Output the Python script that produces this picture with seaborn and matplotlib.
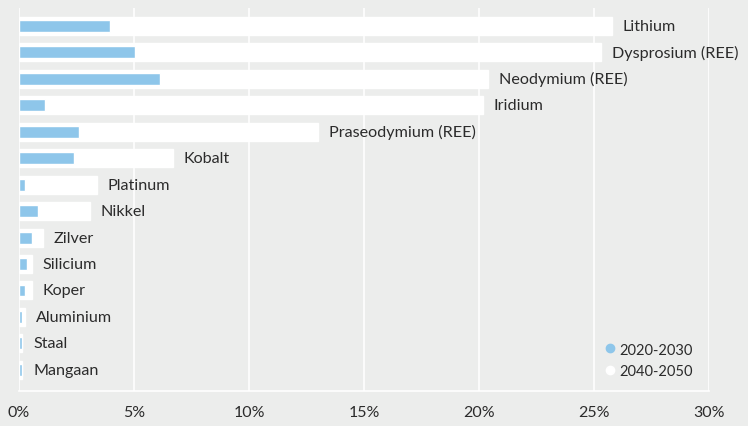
import pandas as pd
import seaborn as sns
import matplotlib.pyplot as plt
from matplotlib.lines import Line2D

metals = ["Lithium", "Dysprosium (REE)", "Neodymium (REE)", "Iridium",
          "Praseodymium (REE)", "Kobalt", "Platinum", "Nikkel", "Zilver",
          "Silicium", "Koper", "Aluminium", "Staal", "Mangaan"]
share_2020_2030 = [3.96, 5.03, 6.13, 1.13, 2.61, 2.39, 0.26, 0.83, 0.57,
                   0.35, 0.26, 0.14, 0.14, 0.14]
share_2040_2050 = [25.77, 25.29, 20.38, 20.16, 12.99, 6.68, 3.38, 3.09, 1.03,
                   0.55, 0.55, 0.25, 0.15, 0.15]
xticks = [0, 5, 10, 15, 20, 25, 30]

df = pd.DataFrame({"metal": metals, "early": share_2020_2030, "late": share_2040_2050})

bg = "#ecedec"
blue = "#8ec6ea"
txt = "#2b2b2b"

sns.set_style("white")
plt.rcParams["font.family"] = ["Lato", "DejaVu Sans"]

fig = plt.figure(figsize=(7.48, 4.27), dpi=100, facecolor=bg)
ax = fig.add_axes([0.0254, 0.082, 0.9225, 0.897], facecolor=bg)

sns.barplot(data=df, x="late", y="metal", orient="h", color="white",
            width=0.68, saturation=1, ax=ax, zorder=2)
sns.barplot(data=df, x="early", y="metal", orient="h", color=blue,
            width=0.45, saturation=1, ax=ax, zorder=3)

for i, row in df.iterrows():
    ax.text(row["late"] + 0.47, i, row["metal"], va="center", ha="left",
            fontsize=11.6, color=txt, zorder=4)

ax.set_xlim(0, 30)
ax.set_ylim(13.8, -0.68)
ax.set_xticks(xticks)
ax.set_xticklabels([f"{t}%" for t in xticks], fontsize=11.5, color=txt)
ax.tick_params(axis="x", length=0, pad=10)
ax.set_yticks([])
ax.set_xlabel("")
ax.set_ylabel("")
ax.grid(axis="x", color="white", linewidth=1.2, zorder=0)
ax.set_axisbelow(True)
for s in ["top", "right", "left"]:
    ax.spines[s].set_visible(False)
ax.spines["bottom"].set_color("white")
ax.spines["bottom"].set_linewidth(1.2)

handles = [Line2D([], [], marker="o", linestyle="", color=blue, markersize=6),
           Line2D([], [], marker="o", linestyle="", color="white", markersize=6)]
ax.legend(handles, ["2020-2030", "2040-2050"], loc="lower right",
          bbox_to_anchor=(0.995, 0.0), frameon=False, fontsize=10.5,
          handletextpad=0.1, labelspacing=0.5, handlelength=1.0,
          labelcolor=txt)

fig.savefig("out.png", dpi=100, facecolor=bg)
